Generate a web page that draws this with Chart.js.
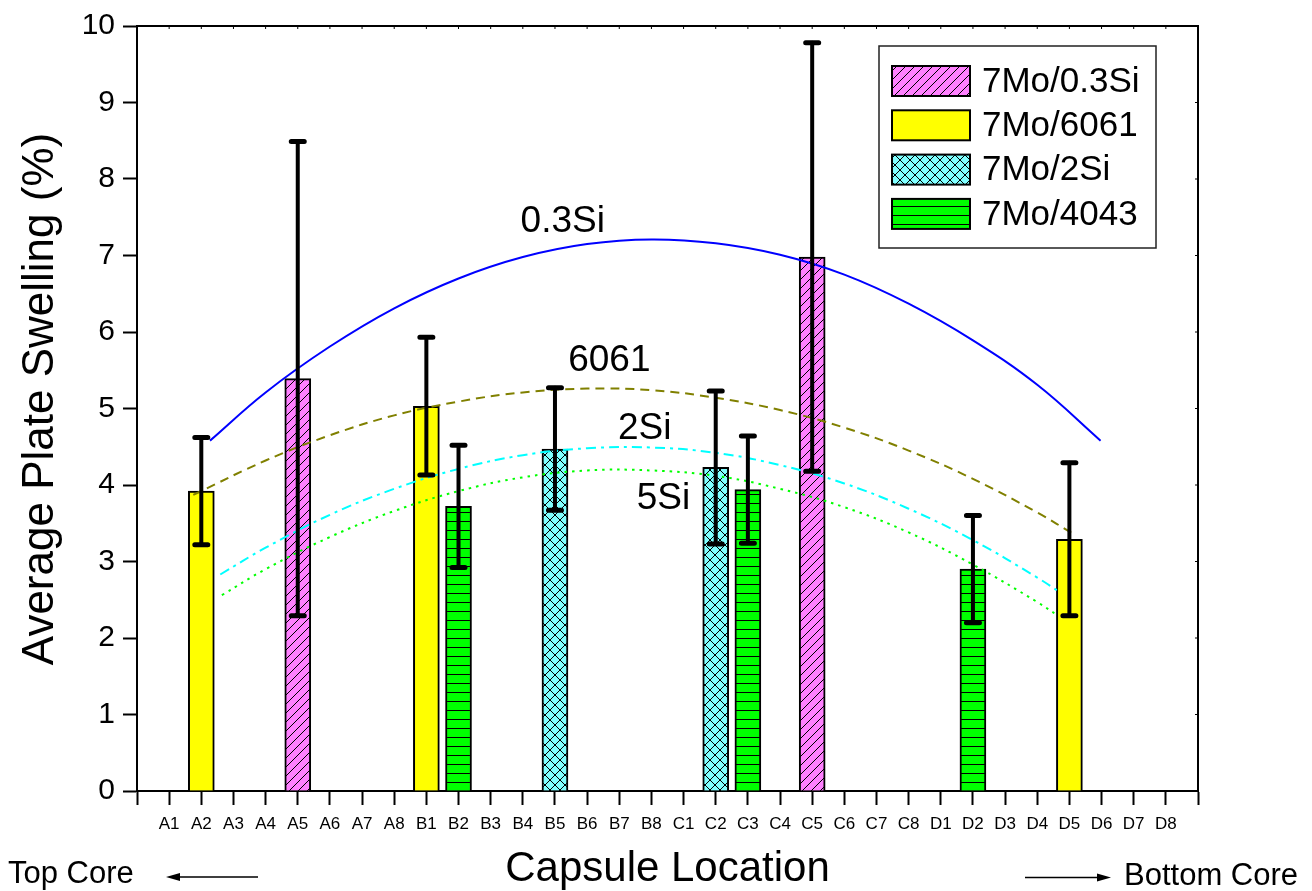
<!DOCTYPE html>
<html>
<head>
<meta charset="utf-8">
<script src="https://cdn.jsdelivr.net/npm/chart.js@4.4.1/dist/chart.umd.min.js"></script>
<style>
  html, body { margin: 0; padding: 0; background: #fff; }
</style>
</head>
<body>
<canvas id="swellChart" width="1312" height="891"></canvas>
<script>
// capsule positions along the core (tick labels)
const locations = ['A1', 'A2', 'A3', 'A4', 'A5', 'A6', 'A7', 'A8',
                   'B1', 'B2', 'B3', 'B4', 'B5', 'B6', 'B7', 'B8',
                   'C1', 'C2', 'C3', 'C4', 'C5', 'C6', 'C7', 'C8',
                   'D1', 'D2', 'D3', 'D4', 'D5', 'D6', 'D7', 'D8'];

// average plate swelling (%) and error half-widths per alloy
const si03Loc = ['A5', 'C5'];
const si03Mean = [5.39, 6.98];
const si03Err = [3.10, 2.80];

const al6061Loc = ['A2', 'B1', 'D5'];
const al6061Mean = [3.92, 5.03, 3.29];
const al6061Err = [0.70, 0.90, 1.00];

const si2Loc = ['B5', 'C2'];
const si2Mean = [4.47, 4.23];
const si2Err = [0.80, 1.00];

const al4043Loc = ['B2', 'C3', 'D2'];
const al4043Mean = [3.72, 3.94, 2.90];
const al4043Err = [0.80, 0.70, 0.70];

// fitted trend curves (x in capsule index, A1 = 1)
const fit03SiX = [2.27, 4, 6, 8, 10, 12, 14, 16, 18, 20, 22, 24, 26, 28, 29.97];
const fit03SiY = [4.58, 5.21, 5.81, 6.31, 6.70, 6.98, 7.15, 7.21, 7.16, 7.01, 6.75, 6.37, 5.89, 5.31, 4.58];
const fit6061X = [1.75, 4, 6, 8, 10, 12, 14, 16, 18, 20, 22, 24, 26, 28, 29.2];
const fit6061Y = [3.87, 4.32, 4.65, 4.91, 5.09, 5.21, 5.26, 5.24, 5.14, 4.98, 4.75, 4.45, 4.08, 3.64, 3.34];
const fit2SiX = [2.59, 4, 6, 8, 10, 12, 14, 16, 18, 20, 22, 24, 26, 28, 28.7];
const fit2SiY = [2.83, 3.18, 3.61, 3.95, 4.21, 4.39, 4.48, 4.49, 4.42, 4.26, 4.02, 3.69, 3.28, 2.79, 2.60];
const fit5SiX = [2.64, 4, 6, 8, 10, 12, 14, 16, 18, 20, 22, 24, 26, 28, 28.65];
const fit5SiY = [2.56, 2.90, 3.32, 3.66, 3.92, 4.10, 4.19, 4.19, 4.12, 3.95, 3.71, 3.38, 2.96, 2.47, 2.29];

const yTicks = [0, 1, 2, 3, 4, 5, 6, 7, 8, 9, 10];

const FONT = "'Liberation Sans', Arial, sans-serif";
Chart.defaults.font.family = FONT;
Chart.defaults.color = '#000';

function hatch(bg, kind) {
    const s = kind === 'cross' ? 10 : 9;
    const c = document.createElement('canvas');
    c.width = s; c.height = s;
    const g = c.getContext('2d');
    g.fillStyle = bg;
    g.fillRect(0, 0, s, s);
    g.strokeStyle = '#000';
    g.lineWidth = 1;
    g.beginPath();
    if (kind === 'diag' || kind === 'cross') {
        g.moveTo(-1, s + 1); g.lineTo(s + 1, -1);
    }
    if (kind === 'cross') {
        g.moveTo(-1, -1); g.lineTo(s + 1, s + 1);
    }
    if (kind === 'horiz') {
        g.moveTo(0, s - 0.5); g.lineTo(s, s - 0.5);
    }
    g.stroke();
    return g.createPattern(c, 'repeat');
}

function points(locs, vals) {
    return locs.map((l, i) => ({ x: locations.indexOf(l) + 1, y: vals[i] }));
}
function curve(xs, ys) {
    return xs.map((x, i) => ({ x: x, y: ys[i] }));
}

function barSet(label, locs, vals, errs, fill) {
    return {
        type: 'bar',
        label: label,
        data: points(locs, vals),
        errors: errs,
        backgroundColor: fill,
        borderColor: '#000',
        borderWidth: 2,
        barThickness: 26,
        grouped: false,
        order: 2
    };
}
function lineSet(xs, ys, color, dash) {
    return {
        type: 'line',
        data: curve(xs, ys),
        borderColor: color,
        borderWidth: 2,
        borderDash: dash,
        pointRadius: 0,
        tension: 0.4,
        fill: false,
        order: 1
    };
}

const extras = {
    id: 'extras',
    afterDatasetsDraw(chart) {
        const { ctx, scales: { x, y } } = chart;
        ctx.save();
        ctx.strokeStyle = '#000';
        ctx.lineCap = 'round';
        chart.data.datasets.forEach(ds => {
            if (!ds.errors) return;
            ds.data.forEach((p, j) => {
                const px = x.getPixelForValue(p.x);
                const top = y.getPixelForValue(p.y + ds.errors[j]);
                const bot = y.getPixelForValue(p.y - ds.errors[j]);
                ctx.lineWidth = 4;
                ctx.beginPath();
                ctx.moveTo(px, top); ctx.lineTo(px, bot);
                ctx.stroke();
                ctx.lineWidth = 5;
                ctx.beginPath();
                ctx.moveTo(px - 6.5, top); ctx.lineTo(px + 6.5, top);
                ctx.moveTo(px - 6.5, bot); ctx.lineTo(px + 6.5, bot);
                ctx.stroke();
            });
        });
        ctx.restore();
    },
    afterDraw(chart) {
        const { ctx, chartArea: a, scales: { x, y } } = chart;
        ctx.save();
        // frame top / right with small inner ticks
        ctx.strokeStyle = '#000';
        ctx.lineWidth = 2;
        ctx.beginPath();
        ctx.moveTo(a.left, a.top); ctx.lineTo(a.right, a.top); ctx.lineTo(a.right, a.bottom);
        ctx.stroke();
        ctx.lineWidth = 1;
        ctx.beginPath();
        for (let i = 1; i <= locations.length; i++) {
            const px = x.getPixelForValue(i);
            ctx.moveTo(px, a.top); ctx.lineTo(px, a.top + 3);
        }
        yTicks.forEach(v => {
            const py = y.getPixelForValue(v);
            ctx.moveTo(a.right, py); ctx.lineTo(a.right - 3, py);
        });
        ctx.stroke();

        // y axis title
        ctx.fillStyle = '#000';
        ctx.save();
        ctx.translate(53, 399);
        ctx.rotate(-Math.PI / 2);
        ctx.font = '44px ' + FONT;
        ctx.textAlign = 'center';
        ctx.textBaseline = 'alphabetic';
        ctx.fillText('Average Plate Swelling (%)', 0, 0);
        ctx.restore();

        // curve tags
        ctx.font = '37px ' + FONT;
        ctx.textAlign = 'left';
        ctx.textBaseline = 'alphabetic';
        [['0.3Si', 11.93, 7.31], ['6061', 13.41, 5.49], ['2Si', 14.96, 4.60], ['5Si', 15.54, 3.68]]
            .forEach(t => ctx.fillText(t[0], x.getPixelForValue(t[1]), y.getPixelForValue(t[2])));

        // legend box
        const bx = 879, by = 46, bw = 277, bh = 202;
        ctx.lineWidth = 1.5;
        ctx.strokeStyle = '#222';
        ctx.fillStyle = '#fff';
        ctx.fillRect(bx, by, bw, bh);
        ctx.strokeRect(bx, by, bw, bh);
        ctx.font = '35px ' + FONT;
        ctx.textBaseline = 'middle';
        chart.data.datasets.filter(d => d.type === 'bar').forEach((d, i) => {
            const sy = by + 20 + i * 44.3;
            ctx.fillStyle = d.backgroundColor;
            ctx.fillRect(bx + 13, sy, 78, 30);
            ctx.lineWidth = 2;
            ctx.strokeStyle = '#000';
            ctx.strokeRect(bx + 13, sy, 78, 30);
            ctx.fillStyle = '#000';
            ctx.fillText(d.label, bx + 103, sy + 16);
        });

        // core direction notes
        ctx.font = '31px ' + FONT;
        ctx.textBaseline = 'alphabetic';
        ctx.fillText('Top Core', 8, 883);
        ctx.fillText('Bottom Core', 1124, 885);
        ctx.lineWidth = 1.5;
        ctx.beginPath();
        ctx.moveTo(258, 877); ctx.lineTo(175, 877);
        ctx.moveTo(1025, 877.5); ctx.lineTo(1102, 877.5);
        ctx.stroke();
        ctx.beginPath();
        ctx.moveTo(166, 877); ctx.lineTo(180, 873); ctx.lineTo(180, 881); ctx.closePath();
        ctx.moveTo(1111, 877.5); ctx.lineTo(1097, 873.5); ctx.lineTo(1097, 881.5); ctx.closePath();
        ctx.fill();
        ctx.restore();
    }
};

const ctx = document.getElementById('swellChart').getContext('2d');
new Chart(ctx, {
    data: {
        datasets: [
            barSet('7Mo/0.3Si', si03Loc, si03Mean, si03Err, hatch('#ff80ff', 'diag')),
            barSet('7Mo/6061', al6061Loc, al6061Mean, al6061Err, '#ffff00'),
            barSet('7Mo/2Si', si2Loc, si2Mean, si2Err, hatch('#80ffff', 'cross')),
            barSet('7Mo/4043', al4043Loc, al4043Mean, al4043Err, hatch('#00ff00', 'horiz')),
            lineSet(fit03SiX, fit03SiY, '#0000ff', []),
            lineSet(fit6061X, fit6061Y, '#808000', [9, 6]),
            lineSet(fit2SiX, fit2SiY, '#00ffff', [10, 5, 3, 5]),
            lineSet(fit5SiX, fit5SiY, '#00ff00', [2.5, 5])
        ]
    },
    options: {
        responsive: false,
        animation: false,
        layout: { padding: { top: 24, right: 114, left: 0, bottom: 0 } },
        plugins: {
            legend: { display: false },
            tooltip: { enabled: false }
        },
        scales: {
            x: {
                type: 'linear',
                min: 0,
                max: locations.length + 1,
                offset: false,
                afterFit: s => { s.height = 100; },
                afterBuildTicks: s => {
                    s.ticks = [];
                    for (let i = 0; i <= locations.length + 1; i++) s.ticks.push({ value: i });
                },
                ticks: {
                    autoSkip: false,
                    maxRotation: 0,
                    padding: 9,
                    font: { size: 17 },
                    callback: v => locations[v - 1] || ''
                },
                grid: { drawOnChartArea: false, offset: false, tickLength: 14, tickWidth: 2, color: '#000' },
                border: { color: '#000', width: 2 },
                title: {
                    display: true,
                    text: 'Capsule Location',
                    font: { size: 42, lineHeight: 1 },
                    padding: { top: 0, bottom: 1 }
                }
            },
            y: {
                min: 0,
                max: 10,
                afterFit: s => { s.width = 137; },
                afterBuildTicks: s => { s.ticks = yTicks.map(v => ({ value: v })); },
                ticks: { font: { size: 30 }, padding: 8 },
                grid: { drawOnChartArea: false, tickLength: 14, tickWidth: 2, color: '#000' },
                border: { color: '#000', width: 2 }
            }
        }
    },
    plugins: [extras]
});
</script>
</body>
</html>
